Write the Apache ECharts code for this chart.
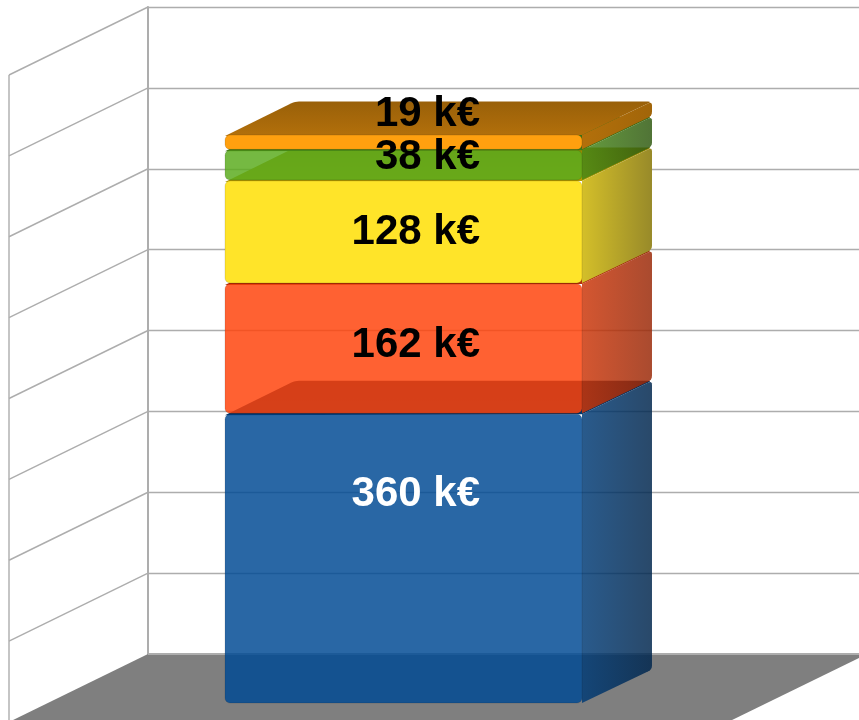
<!DOCTYPE html>
<html>
<head>
<meta charset="utf-8">
<style>html,body{margin:0;padding:0;background:#fff}#c{width:859px;height:720px}</style>
<script src="https://cdn.jsdelivr.net/npm/echarts@6/dist/echarts.min.js"></script>
</head>
<body>
<div id="c"></div>
<script>
var categories = [''];
var values = [360, 162, 128, 38, 19];
var valueLabels = ['360 k€', '162 k€', '128 k€', '38 k€', '19 k€'];
var axisTicks = [0, 100, 200, 300, 400, 500, 600, 700, 800];

// styling and 3D projection settings
var baseColors = [[0,74,148],[255,67,11],[255,223,0],[90,171,30],[255,160,15]];
var opacities = [0.84,0.84,1,0.84,1];
var whiteMix = [0,0,0.16,0,0];
var sideShade = [[0.8,0.52],[0.8,0.6],[0.8,0.52],[0.8,0.52],[0.7,0.63]];
var labelColors = ['#fff','#000','#000','#000','#000'];
var labelShift = [-64.6,-3.6,0,-8,-28];
var WALL_DX = -139, WALL_DY = 68, LINE = '#adadad';
var FRONT_DX = -104, FRONT_DY = 49.5, BACK_DX = -34, BACK_DY = 16;
var BAR_RATIO = 0.4965, BAR_SCALE = 0.995, GAP = 0.5, LABEL_RIGHT = 76.5;

function paint(i, f, solid) {
  var a = solid ? 1 : opacities[i], c = baseColors[i], m = solid ? 0 : whiteMix[i];
  var r = c.map(function (v) { return Math.round(v * f * (1 - m) + 255 * m); });
  return 'rgba(' + r.join(',') + ',' + a + ')';
}
function rounded(pts, radii) {
  var out = [], n = pts.length;
  for (var i = 0; i < n; i++) {
    var p = pts[i], a = pts[(i + n - 1) % n], b = pts[(i + 1) % n], r = radii[i];
    if (!r) { out.push(p); continue; }
    var da = Math.hypot(a[0]-p[0], a[1]-p[1]), db = Math.hypot(b[0]-p[0], b[1]-p[1]);
    var ra = Math.min(r, da / 2), rb = Math.min(r, db / 2);
    var s = [p[0]+(a[0]-p[0])*ra/da, p[1]+(a[1]-p[1])*ra/da];
    var e = [p[0]+(b[0]-p[0])*rb/db, p[1]+(b[1]-p[1])*rb/db];
    for (var t = 0; t <= 1.001; t += 0.25) {
      var u = 1 - t;
      out.push([u*u*s[0]+2*u*t*p[0]+t*t*e[0], u*u*s[1]+2*u*t*p[1]+t*t*e[1]]);
    }
  }
  return out;
}
function barFrame(api, from, to) {
  var base = api.coord([0, 0]), w = api.size([1, 0])[0] * BAR_RATIO;
  var y0 = base[1] + (api.coord([0, from])[1] - base[1]) * BAR_SCALE;
  var y1 = base[1] + (api.coord([0, to])[1] - base[1]) * BAR_SCALE;
  return {cx: base[0], w: w, y0: y0, y1: y1};
}
function renderBar(params, api) {
  var i = params.dataIndex, from = api.value(0), to = api.value(1);
  var b = barFrame(api, from, to);
  var fl = b.cx + FRONT_DX - b.w / 2, fr = fl + b.w;
  var bl = b.cx + BACK_DX - b.w / 2, br = bl + b.w;
  var fb = b.y0 + FRONT_DY - GAP, ft = b.y1 + FRONT_DY + GAP;
  var bb = b.y0 + BACK_DY - GAP, bt = b.y1 + BACK_DY + GAP;
  var edge = 'rgba(0,0,0,0.12)';
  return {
    type: 'group',
    children: [
      {type:'polygon', shape:{points: rounded([[fl,ft+1],[bl,bt],[br,bt],[fr,ft]], [0,4,4,0])},
       style:{fill:{type:'linear',x:0,y:0,x2:0,y2:1,colorStops:[{offset:0,color:paint(i,0.6,true)},{offset:1,color:paint(i,0.7,true)}]}}},
      {type:'polygon', shape:{points: rounded([[fr,ft],[br,bt],[br,bb],[fr,fb]], [0,4,4,0])},
       style:{fill:{type:'linear',x:0,y:0,x2:1,y2:0,colorStops:[{offset:0,color:paint(i,sideShade[i][0])},{offset:1,color:paint(i,sideShade[i][1])}]}}},
      {type:'rect', shape:{x:fl,y:ft,width:b.w,height:fb-ft,r:5},
       style:{fill:paint(i,1),stroke:edge,lineWidth:1}}
    ]
  };
}
function renderLabel(params, api) {
  var i = params.dataIndex;
  var b = barFrame(api, api.value(0), api.value(1));
  return {
    type:'text', z2:100,
    x: b.cx + FRONT_DX + LABEL_RIGHT,
    y: (b.y0 + b.y1) / 2 + FRONT_DY + labelShift[i],
    style:{text:valueLabels[i],fill:labelColors[i],font:'bold 42px "Liberation Sans", Arial, sans-serif',align:'right',verticalAlign:'middle'}
  };
}
function renderWall(params, api) {
  var p = api.coord([0, api.value(0)]), band = api.size([1, 0])[0];
  var x = p[0] - band / 2, y = p[1];
  var kids = [];
  if (params.dataIndex === 0) {
    kids.push({type:'polygon',shape:{points:[[x,y],[x+band,y],[x+band+WALL_DX,y+WALL_DY],[x+WALL_DX,y+WALL_DY]]},style:{fill:'#7f7f7f'}});
    kids.push({type:'line',shape:{x1:x+band,y1:y,x2:x,y2:y},style:{stroke:LINE,lineWidth:2}});
    var topY = api.coord([0, axisTicks[axisTicks.length - 1]])[1];
    kids.push({type:'line',shape:{x1:x+WALL_DX,y1:topY+WALL_DY,x2:x+WALL_DX,y2:y+WALL_DY},style:{stroke:LINE,lineWidth:1.4}});
  } else {
    kids.push({type:'line',shape:{x1:x,y1:y,x2:x+WALL_DX,y2:y+WALL_DY},style:{stroke:LINE,lineWidth:1.4}});
  }
  return {type:'group',children:kids};
}

var running = 0;
var stacked = values.map(function (v) { var r = [running, running + v]; running += v; return r; });

var chart = echarts.init(document.getElementById('c'), null, {renderer:'canvas'});
chart.setOption({
  animation:false,
  backgroundColor:'#fff',
  grid:{left:148,top:7,width:719,height:647,outerBoundsMode:'none'},
  xAxis:{type:'category',data:categories,show:false},
  yAxis:{type:'value',min:0,max:800,interval:100,
    axisLabel:{show:false},axisTick:{show:false},
    axisLine:{show:true,onZero:false,lineStyle:{color:LINE,width:2}},
    splitLine:{show:true,lineStyle:{color:LINE,width:1.4}}},
  series:[
    {type:'custom',coordinateSystem:'cartesian2d',renderItem:renderWall,data:axisTicks.map(function(t){return [t];}),encode:{y:0},z:1,silent:true},
    {type:'custom',coordinateSystem:'cartesian2d',renderItem:renderBar,data:stacked,encode:{y:[0,1]},z:2},
    {type:'custom',coordinateSystem:'cartesian2d',renderItem:renderLabel,data:stacked,encode:{y:[0,1]},z:3}
  ]
});
</script>
</body>
</html>
